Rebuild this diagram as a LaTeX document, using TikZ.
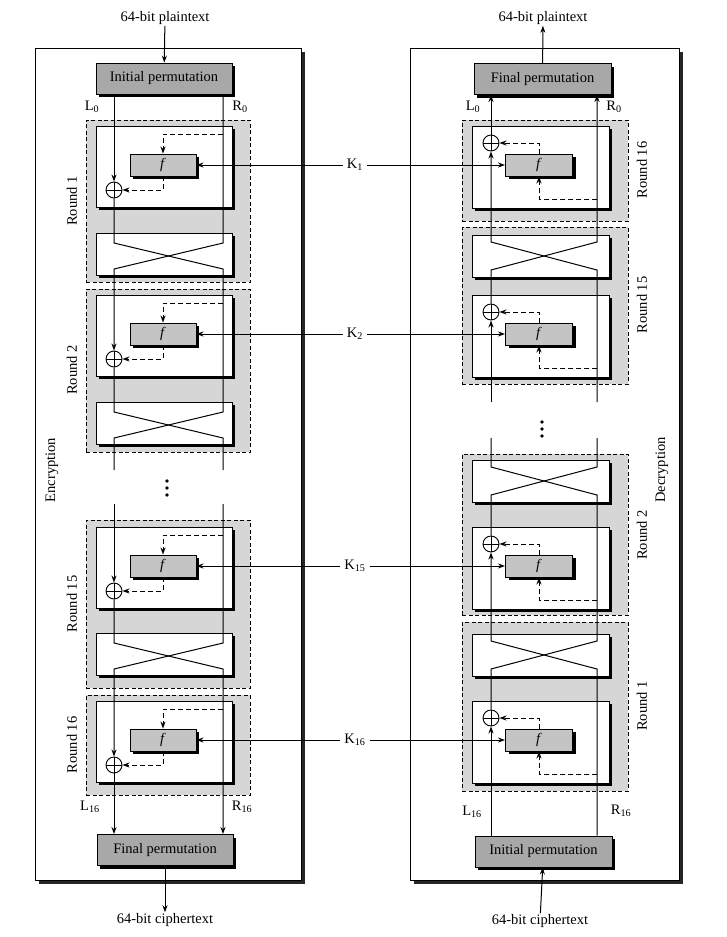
\documentclass[tikz,border=0pt]{standalone}
\usepackage{fontspec}
\setmainfont{Liberation Serif}
\usetikzlibrary{arrows.meta,shadows}
\definecolor{regiongray}{HTML}{D6D6D6}
\definecolor{permgray}{HTML}{A8A8A8}
\definecolor{fgray}{HTML}{C4C4C4}
\newcommand\encf[2]{%
  \node[wbox, minimum width=136pt, minimum height=81pt] (#1w) at (164,{#2+40.5}) {};
  \node[fbox] (#1f) at (163,{#2+39}) {\textit{f}};
  \node[xor] (#1x) at (114,{#2+64}) {};}
\newcommand\encs[2]{%
  \node[wbox, minimum width=136pt, minimum height=42pt] (#1s) at (164,{#2+21}) {};}
\newcommand\decf[2]{%
  \node[wbox, minimum width=137pt, minimum height=82pt] (#1w) at (540.5,{#2+41}) {};
  \node[fbox, minimum width=67pt] (#1f) at (539,{#2+39}) {\textit{f}};
  \node[xor] (#1x) at (491,{#2+17}) {};}
\newcommand\decs[2]{%
  \node[wbox, minimum width=137pt, minimum height=42pt] (#1s) at (540.5,{#2+21}) {};}
\begin{document}
\begin{tikzpicture}[x=1pt,y=-1pt,
  every node/.append style={font=\fontsize{14.5pt}{17pt}\selectfont},
  shad/.style={general shadow={fill=black, shadow xshift=3pt, shadow yshift=-3pt}},
  panel/.style={draw, fill=white, line width=0.8pt, inner sep=0,
     general shadow={fill=black!85, shadow xshift=3.5pt, shadow yshift=-3.5pt}},
  dreg/.style={draw, dash pattern=on 4pt off 2.5pt, fill=regiongray, line width=0.6pt, inner sep=0},
  wbox/.style={draw, fill=white, line width=0.9pt, shad, inner sep=0},
  perm/.style={draw, fill=permgray, line width=0.9pt, shad, inner sep=0,
     minimum width=136pt, minimum height=31pt},
  fbox/.style={draw, fill=fgray, line width=0.9pt, shad, inner sep=0,
     minimum width=66pt, minimum height=22pt},
  xor/.style={circle, draw, fill=white, line width=0.9pt, minimum size=16pt, inner sep=0,
     path picture={\draw[line width=0.9pt] (path picture bounding box.north) -- (path picture bounding box.south)
        (path picture bounding box.west) -- (path picture bounding box.east);}},
  ln/.style={line width=1pt},
  tip/.style={-{Stealth[length=7pt, width=5pt]}},
  arr/.style={ln, tip},
  dsh/.style={ln, tip, dash pattern=on 5pt off 3pt},
  lbl/.style={inner sep=1pt},
  klbl/.style={inner sep=4pt},
  dot/.style={circle, fill=black, inner sep=0, minimum size=3.8pt}]
\useasboundingbox (0,0) rectangle (727,937);
\fill[white] (0,0) rectangle (727,937);

% panels
\node[panel, minimum width=266pt, minimum height=832pt] (encP) at (168,464) {};
\node[panel, minimum width=269pt, minimum height=832pt] (decP) at (544.5,464) {};

% ---------------- Encryption ----------------
\node[perm] (ipL) at (164,78.5) {Initial permutation};
\node[perm] (fpL) at (165,850) {Final permutation};

\node[dreg, minimum width=164pt, minimum height=162pt] (rgE1) at (168,201) {};
\encf{e1}{126}
\encs{es1}{233}
\node[dreg, minimum width=164pt, minimum height=163pt] (rgE2) at (168,370.5) {};
\encf{e2}{295}
\encs{es2}{402}
\node[dreg, minimum width=164pt, minimum height=168pt] (rgE15) at (168,604) {};
\encf{e15}{527}
\encs{es15}{633}
\node[dreg, minimum width=164pt, minimum height=100pt] (rgE16) at (168,745) {};
\encf{e16}{701}

\coordinate (xR) at (223,0);

% ---------------- Decryption ----------------
\node[perm, minimum width=137pt] (fpR) at (542.5,79) {Final permutation};
\node[perm, minimum width=137pt] (ipR) at (543.5,851.5) {Initial permutation};

\node[dreg, minimum width=166pt, minimum height=101pt] (rgD16) at (545,170.5) {};
\decf{d16}{126}
\node[dreg, minimum width=166pt, minimum height=157pt] (rgD15) at (545,305.5) {};
\decs{ds15}{235}
\decf{d15}{295}
\node[dreg, minimum width=166pt, minimum height=161pt] (rgD2) at (545,534.5) {};
\decs{ds2}{460}
\decf{d2}{527}
\node[dreg, minimum width=166pt, minimum height=169pt] (rgD1) at (545,706.5) {};
\decs{ds1}{634}
\decf{d1}{701}

\coordinate (xRR) at (597,0);

% ---------- encryption data lines ----------
\draw[arr] (ipL.south -| e1x) -- (e1x);
\draw[arr] (ipL.south -| xR) -- (223,243) -- (114,269) -- (e2x);
\coordinate (eLend) at (114,470);
\coordinate (eRend) at (223,470);
\draw[ln] (e1x) -- (114,243) -- (223,269) -- (223,412) -- (114,438) -- (eLend);
\draw[ln] (e2x) -- (114,412) -- (223,438) -- (eRend);
\coordinate (eLbeg) at (114,504);
\coordinate (eRbeg) at (223,504);
\draw[arr] (eLbeg) -- (e15x);
\draw[arr] (eRbeg) -- (223,643) -- (114,669) -- (e16x);
\draw[arr] (e15x) -- (114,643) -- (223,669) -- (fpL.north -| xR);
\draw[arr] (e16x) -- (fpL.north -| e16x);

% encryption feedback (dashed)
\draw[dsh] (223,134) -- (163,134) -- (e1f);
\draw[dsh] (e1f) -- (163,190) -- (e1x);
\draw[dsh] (223,303) -- (163,303) -- (e2f);
\draw[dsh] (e2f) -- (163,359) -- (e2x);
\draw[dsh] (223,535) -- (163,535) -- (e15f);
\draw[dsh] (e15f) -- (163,591) -- (e15x);
\draw[dsh] (223,709) -- (163,709) -- (e16f);
\draw[dsh] (e16f) -- (163,765) -- (e16x);

% ---------- decryption data lines ----------
\draw[arr] (ipR.north -| d1x) -- (d1x);
\draw[arr] (ipR.north -| xRR) -- (597,669) -- (491,641) -- (d2x);
\coordinate (dLend) at (491,438);
\coordinate (dRend) at (597,438);
\draw[ln] (d1x) -- (491,669) -- (597,641) -- (597,495) -- (491,467) -- (dLend);
\draw[ln] (d2x) -- (491,495) -- (597,467) -- (dRend);
\coordinate (dLbeg) at (491,402);
\coordinate (dRbeg) at (597,402);
\draw[arr] (dLbeg) -- (d15x);
\draw[arr] (dRbeg) -- (597,270) -- (491,242) -- (d16x);
\draw[arr] (d15x) -- (491,270) -- (597,242) -- (fpR.south -| xRR);
\draw[arr] (d16x) -- (fpR.south -| d16x);

% decryption feedback (dashed)
\draw[dsh] (597,199) -- (539,199) -- (d16f);
\draw[dsh] (d16f) -- (539,143) -- (d16x);
\draw[dsh] (597,368) -- (539,368) -- (d15f);
\draw[dsh] (d15f) -- (539,312) -- (d15x);
\draw[dsh] (597,600) -- (539,600) -- (d2f);
\draw[dsh] (d2f) -- (539,544) -- (d2x);
\draw[dsh] (597,774) -- (539,774) -- (d1f);
\draw[dsh] (d1f) -- (539,718) -- (d1x);

% ---------- keys ----------
\node[klbl] (k1) at (355,165) {K\textsubscript{1}};
\node[klbl] (k2) at (355,334) {K\textsubscript{2}};
\node[klbl] (k15) at (355,566) {K\textsubscript{15}};
\node[klbl] (k16) at (355,740) {K\textsubscript{16}};
\draw[arr] (k1) -- (e1f);   \draw[arr] (k1) -- (d16f);
\draw[arr] (k2) -- (e2f);   \draw[arr] (k2) -- (d15f);
\draw[arr] (k15) -- (e15f); \draw[arr] (k15) -- (d2f);
\draw[arr] (k16) -- (e16f); \draw[arr] (k16) -- (d1f);

% ---------- dots ----------
\node[dot] (dtL1) at (167,481) {};
\node[dot] (dtL2) at (167,488) {};
\node[dot] (dtL3) at (167,495) {};
\node[dot] (dtR1) at (542,422) {};
\node[dot] (dtR2) at (542,429) {};
\node[dot] (dtR3) at (542,436) {};

% ---------- inputs / outputs ----------
\node[lbl] (ptL) at (165,18) {64-bit plaintext};
\node[lbl] (ctL) at (165,920) {64-bit ciphertext};
\node[lbl] (ptR) at (543,18) {64-bit plaintext};
\node[lbl] (ctR) at (540,921) {64-bit ciphertext};
\draw[arr] (ptL) -- (ipL);
\draw[arr] (fpL) -- (ctL);
\draw[arr] (fpR) -- (ptR);
\draw[arr] (ctR) -- (ipR);

% ---------- L / R labels ----------
\node[lbl] (lL0) at (92,107) {L\textsubscript{0}};
\node[lbl] (lR0) at (240,107) {R\textsubscript{0}};
\node[lbl] (lL16) at (90,807) {L\textsubscript{16}};
\node[lbl] (lR16) at (242,807) {R\textsubscript{16}};
\node[lbl] (rL0) at (473,107) {L\textsubscript{0}};
\node[lbl] (rR0) at (614,107) {R\textsubscript{0}};
\node[lbl] (rL16) at (472,812) {L\textsubscript{16}};
\node[lbl] (rR16) at (621,811) {R\textsubscript{16}};

% ---------- rotated labels ----------
\node[lbl, rotate=90] (tEnc) at (52,470) {Encryption};
\node[lbl, rotate=90] (tDec) at (662,470) {Decryption};
\node[lbl, rotate=90] (tE1) at (72,201) {Round 1};
\node[lbl, rotate=90] (tE2) at (72,370) {Round 2};
\node[lbl, rotate=90] (tE15) at (72,604) {Round 15};
\node[lbl, rotate=90] (tE16) at (72,745) {Round 16};
\node[lbl, rotate=90] (tD16) at (642,170) {Round 16};
\node[lbl, rotate=90] (tD15) at (642,305) {Round 15};
\node[lbl, rotate=90] (tD2) at (642,535) {Round 2};
\node[lbl, rotate=90] (tD1) at (642,706) {Round 1};
\end{tikzpicture}
\end{document}
